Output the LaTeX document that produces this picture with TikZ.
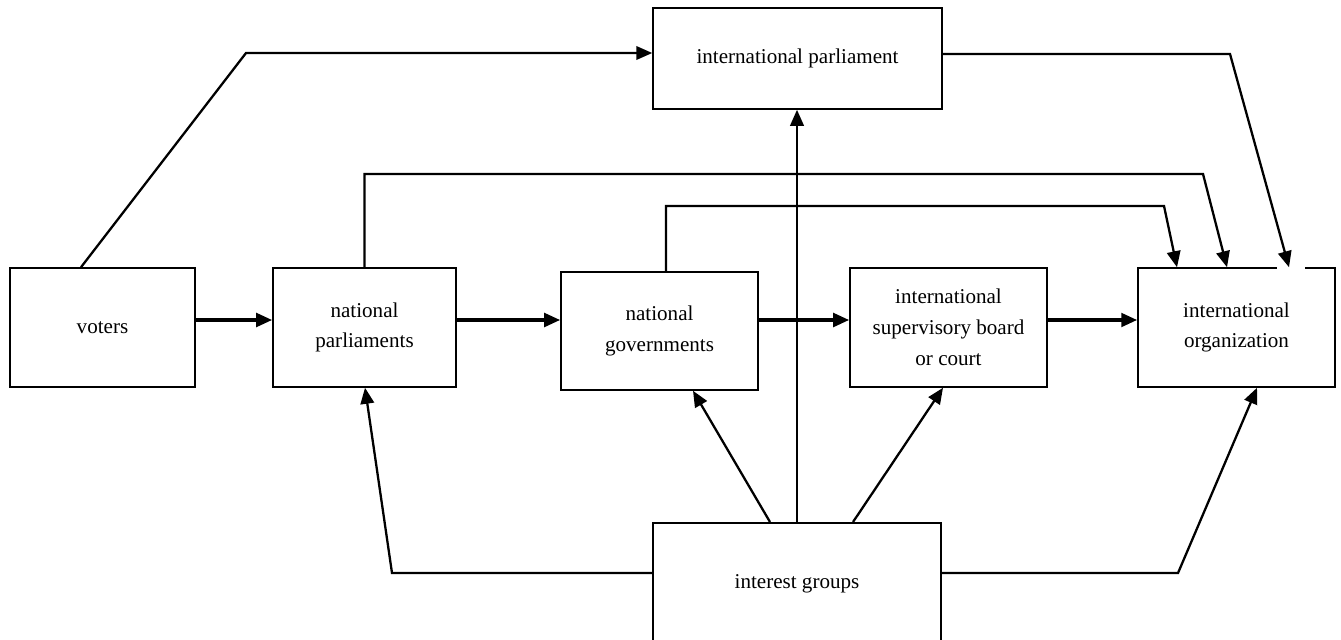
\documentclass[tikz,border=0pt]{standalone}
\usepackage{fontspec}
\setmainfont{Liberation Serif}
\usetikzlibrary{arrows.meta}
\tikzset{
    >={Triangle[length=0.32cm, width=0.27cm]}, % solid arrow heads
    box/.style={draw, line width=0.9pt, align=center, inner sep=0pt, font=\fontsize{12}{17.5}\selectfont}, % every block
    link/.style={->, line width=1.3pt}, % thinner connectors
    flow/.style={->, line width=2pt}, % main chain left to right
}
\begin{document}
\begin{tikzpicture}[x=0.02cm, y=-0.02cm]
    \useasboundingbox (0,0) rectangle (1341,639);
    \node[box, minimum width=3.7cm, minimum height=2.38cm] (voters) at (102.5,327.5) {voters};
    \node[box, minimum width=3.66cm, minimum height=2.38cm] (natpar) at (364.5,327.5) {national\\parliaments};
    \node[box, minimum width=3.94cm, minimum height=2.36cm] (natgov) at (659.5,331) {national\\governments};
    \node[box, minimum width=3.94cm, minimum height=2.38cm] (board) at (948.5,327.5) {international\\supervisory board\\or court};
    \node[box, minimum width=3.94cm, minimum height=2.38cm] (intorg) at (1236.5,327.5) {international\\organization};
    \node[box, minimum width=5.78cm, minimum height=2.02cm] (intpar) at (797.5,58.5) {international parliament};
    \node[box, minimum width=5.76cm, minimum height=2.76cm, anchor=north] (groups) at (797,522) {\raisebox{0.4cm}{interest groups}};
    % opening in the top border of the organization block
    \draw[white, line width=2pt] (1277,268) -- (1305,268);
    \draw[flow] (voters.east |- 0,320) -- (natpar.west |- 0,320);
    \draw[flow] (natpar.east |- 0,320) -- (natgov.west |- 0,320);
    \draw[flow] (natgov.east |- 0,320) -- (board.west |- 0,320);
    \draw[flow] (board.east |- 0,320) -- (intorg.west |- 0,320);
    \draw[link] (voters.north -| 81,0) -- (246,53) -- (intpar.west |- 0,53);
    \draw[link] (natpar.north) -- (364.5,174) -- (1203,174) -- (intorg.north -| 1227,0);
    \draw[link] (natgov.north -| 666,0) -- (666,206) -- (1164,206) -- (intorg.north -| 1177,0);
    \draw[link] (intpar.east |- 0,54) -- (1230,54) -- (intorg.north -| 1289,0);
    \draw[link] (groups.north) -- (groups.north |- intpar.south);
    \draw[link] (groups.north -| 770,0) -- (natgov.south -| 693,0);
    \draw[link] (groups.north -| 853,0) -- (board.south -| 943,0);
    \draw[link] (groups.west |- 0,573) -- (392,573) -- (natpar.south -| 365,0);
    \draw[link] (groups.east |- 0,573) -- (1178,573) -- (intorg.south -| 1257,0);
\end{tikzpicture}
\end{document}
